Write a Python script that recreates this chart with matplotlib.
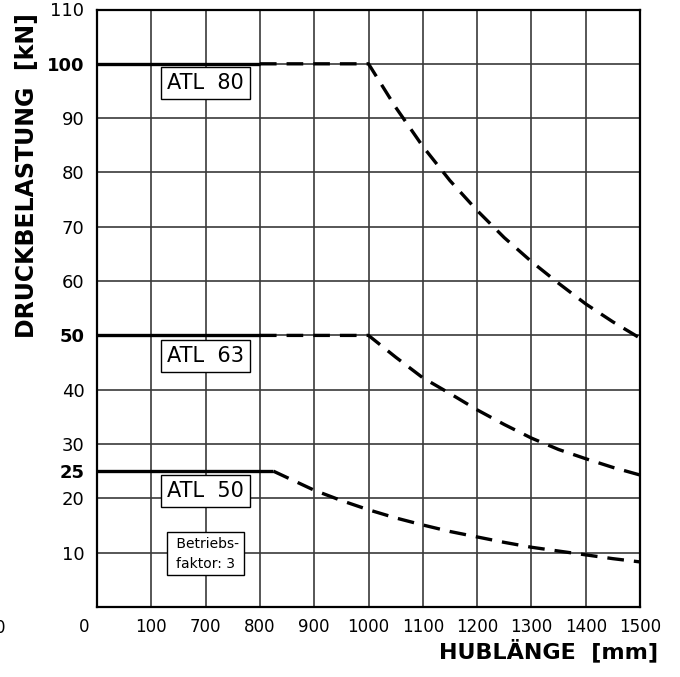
#!/usr/bin/env python3
import matplotlib as mpl
mpl.use('Agg')
import matplotlib.pyplot as plt
import matplotlib.transforms as mtransforms
import numpy as np

plt.rcParams['font.family'] = ['DejaVu Sans']

# x axis: non-linear tick labels, one per grid column
x_tick_labels = ['0', '100', '700', '800', '900', '1000', '1100',
                 '1200', '1300', '1400', '1500']
x_tick_mm = [0, 100, 700, 800, 900, 1000, 1100, 1200, 1300, 1400, 1500]

y_ticks = [10, 20, 25, 30, 40, 50, 60, 70, 80, 90, 100, 110]
y_bold = [25, 50, 100]

# ATL 80
atl80_solid_mm = [0, 800]
atl80_solid_kn = [100, 100]
atl80_dash_mm = [800, 1000, 1050, 1100, 1150, 1200, 1250, 1300, 1350, 1400, 1450, 1500]
atl80_dash_kn = [100, 100, 92.0, 84.8, 78.5, 73.0, 68.0, 63.6, 59.6, 55.8, 52.5, 49.5]

# ATL 63
atl63_solid_mm = [0, 800]
atl63_solid_kn = [50, 50]
atl63_dash_mm = [800, 1000, 1050, 1100, 1150, 1200, 1250, 1300, 1350, 1400, 1450, 1500]
atl63_dash_kn = [50, 50, 46.0, 42.2, 39.3, 36.3, 33.6, 31.1, 29.0, 27.3, 25.7, 24.3]

# ATL 50
atl50_solid_mm = [0, 825]
atl50_solid_kn = [25, 25]
atl50_dash_mm = [825, 900, 950, 1000, 1050, 1100, 1150, 1200, 1250, 1300, 1350, 1400, 1450, 1500]
atl50_dash_kn = [25, 21.5, 19.6, 17.9, 16.4, 15.1, 13.9, 12.9, 11.9, 11.0, 10.3, 9.6, 8.9, 8.3]

labels = ['ATL  80', 'ATL  63', 'ATL  50']
label_mm = [700, 700, 700]
label_kn = [96.5, 46.2, 21.4]


def to_pos(mm):
    return np.interp(mm, x_tick_mm, np.arange(len(x_tick_mm)))


def main():
    fig = plt.figure(figsize=(6.8, 6.77), dpi=100)
    ax = fig.add_axes([97 / 680, 70 / 677, 543 / 680, 597.5 / 677])
    ax.set_xlim(0, 10)
    ax.set_ylim(0, 110)

    gc = '#3a3a3a'
    for xp in range(1, 10):
        ax.axvline(xp, color=gc, lw=1.2, zorder=1)
    for yv in range(10, 101, 10):
        ax.axhline(yv, color=gc, lw=1.2, zorder=1)

    lw = 2.4
    dash = (5.0, 3.0)
    for smm, skn, dmm, dkn in [
        (atl80_solid_mm, atl80_solid_kn, atl80_dash_mm, atl80_dash_kn),
        (atl63_solid_mm, atl63_solid_kn, atl63_dash_mm, atl63_dash_kn),
        (atl50_solid_mm, atl50_solid_kn, atl50_dash_mm, atl50_dash_kn),
    ]:
        ax.plot(to_pos(smm), skn, color='black', lw=lw, zorder=3,
                solid_capstyle='butt')
        ax.plot(to_pos(dmm), dkn, color='black', lw=lw, zorder=3,
                dashes=dash, dash_capstyle='butt')

    for lab, mm, kn in zip(labels, label_mm, label_kn):
        ax.text(to_pos(mm), kn, lab, ha='center', va='center', fontsize=15,
                zorder=4,
                bbox=dict(boxstyle='square,pad=0.3', fc='white', ec='black', lw=1.0))

    ax.text(to_pos(700), 9.8, ' Betriebs-\nfaktor: 3', ha='center', va='center',
            fontsize=10, linespacing=1.5, zorder=4,
            bbox=dict(boxstyle='square,pad=0.35', fc='white', ec='black', lw=1.0))

    for s in ax.spines.values():
        s.set_linewidth(1.6)
        s.set_zorder(5)

    ax.set_xticks(np.arange(len(x_tick_labels)))
    ax.set_xticklabels(x_tick_labels, fontsize=12)
    ax.tick_params(axis='x', length=0, pad=8)
    first = ax.get_xticklabels()[0]
    first.set_transform(first.get_transform() +
                        mtransforms.ScaledTranslation(-0.13, 0, fig.dpi_scale_trans))

    ax.set_yticks(y_ticks)
    ax.set_yticklabels([str(v) for v in y_ticks], fontsize=13)
    for t, v in zip(ax.get_yticklabels(), y_ticks):
        if v in y_bold:
            t.set_fontweight('bold')
    ax.tick_params(axis='y', length=0, pad=9)

    fig.text(27 / 680, 1 - 176 / 677, 'DRUCKBELASTUNG  [kN]', rotation=90,
             ha='center', va='center', fontsize=17, fontweight='bold')
    fig.text(658 / 680, 1 - 650 / 677, 'HUBLÄNGE  [mm]', ha='right', va='center',
             fontsize=16, fontweight='bold')
    # partly cut-off "0" at the far left edge, as in the original
    fig.text(0.0, 1 - 628 / 677, '0', ha='center', va='center', fontsize=12)

    fig.savefig('out.png', dpi=100)


if __name__ == '__main__':
    main()
